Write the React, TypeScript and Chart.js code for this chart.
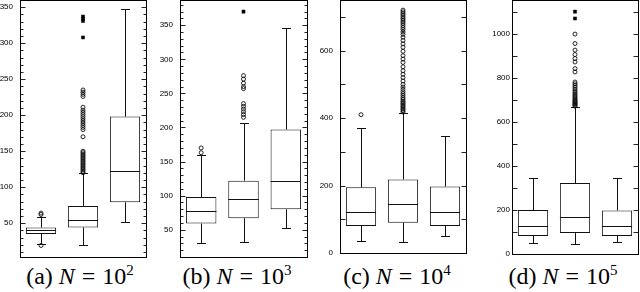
import React, { useEffect, useRef } from 'react';
import { Chart, registerables } from 'chart.js';

Chart.register(...registerables);

const groups = ['G1', 'G2', 'G3'];

// ---------- (a) N = 10^2 ----------
const aLow = [21, 20, 51];
const aQ1 = [35, 44, 79];
const aMedian = [40, 54, 122];
const aQ3 = [44, 74, 198];
const aHigh = [58, 120, 348];
const aOutliers = [
  [19, 62, 64],
  [120, 122, 124, 126, 128, 130, 132, 134, 136, 138, 140, 142, 144, 146, 148, 150, 170, 180, 183, 186, 189, 192, 195, 198, 201, 204, 207, 211, 226, 229, 232, 235],
  [],
];
const aExtremes = [[], [308, 331, 334, 337], []];

// ---------- (b) N = 10^3 ----------
const bLow = [30, 32, 52];
const bQ1 = [59, 67, 80];
const bMedian = [78, 95, 122];
const bQ3 = [98, 122, 197];
const bHigh = [160, 207, 346];
const bOutliers = [
  [163, 170],
  [215, 219, 223, 227, 231, 235, 257, 260, 265, 271, 276],
  [],
];
const bExtremes = [[], [370], []];

// ---------- (c) N = 10^4 ----------
const cLow = [36, 33, 50];
const cQ1 = [80, 90, 80];
const cMedian = [122, 146, 122];
const cQ3 = [195, 218, 197];
const cHigh = [370, 415, 348];
const cOutliers = [
  [410],
  [418, 422, 426, 430, 434, 438, 442, 446, 450, 455, 460, 466, 472, 478, 485, 492, 500, 510, 520, 530, 540, 552, 565, 575, 585, 598, 610, 620, 630, 640, 648, 655, 662, 668, 674, 680, 685, 690, 695, 700, 705, 710, 715, 720],
  [],
];
const cExtremes = [[], [], []];

// ---------- (d) N = 10^5 ----------
const dLow = [50, 45, 55];
const dQ1 = [82, 95, 82];
const dMedian = [126, 167, 127];
const dQ3 = [200, 323, 198];
const dHigh = [347, 670, 347];
const dOutliers = [
  [],
  [672, 676, 680, 684, 688, 692, 696, 700, 705, 710, 716, 722, 728, 735, 742, 750, 758, 766, 774, 782, 828, 843, 873, 889, 907, 927, 957, 1000],
  [],
];
const dExtremes = [[], [1071, 1102], []];

// tick settings (values)
const aTicks = { min: 3, max: 360, step: 10, labelEvery: 50 };
const bTicks = { min: 10, max: 387, step: 10, labelEvery: 50 };
const cTicks = { min: 0, max: 750, step: 100, labelEvery: 200 };
const dTicks = { min: 0, max: 1155, step: 100, labelEvery: 200 };

const captions = [
  { letter: '(a)', exp: '2' },
  { letter: '(b)', exp: '3' },
  { letter: '(c)', exp: '4' },
  { letter: '(d)', exp: '5' },
];

type Stats = {
  low: number[]; q1: number[]; median: number[]; q3: number[]; high: number[];
  outliers: number[][]; extremes: number[][];
  ticks: { min: number; max: number; step: number; labelEvery: number };
};

type Layout = { x: number; axisWidth: number; padRight: number; height: number; padBottom: number; labelPad: number; majorLen: number; minorLen: number; captionCenter: number };

const panels: { stats: Stats; layout: Layout }[] = [
  {
    stats: { low: aLow, q1: aQ1, median: aMedian, q3: aQ3, high: aHigh, outliers: aOutliers, extremes: aExtremes, ticks: aTicks },
    layout: { x: 0, axisWidth: 20, padRight: 14, height: 262, padBottom: 5, labelPad: 7, majorLen: 5, minorLen: 3, captionCenter: 80 },
  },
  {
    stats: { low: bLow, q1: bQ1, median: bMedian, q3: bQ3, high: bHigh, outliers: bOutliers, extremes: bExtremes, ticks: bTicks },
    layout: { x: 160, axisWidth: 20, padRight: 13, height: 262, padBottom: 5, labelPad: 7, majorLen: 5, minorLen: 3, captionCenter: 237 },
  },
  {
    stats: { low: cLow, q1: cQ1, median: cMedian, q3: cQ3, high: cHigh, outliers: cOutliers, extremes: cExtremes, ticks: cTicks },
    layout: { x: 320, axisWidth: 20, padRight: 14, height: 262, padBottom: 9, labelPad: 7, majorLen: 5, minorLen: 5, captionCenter: 397 },
  },
  {
    stats: { low: dLow, q1: dQ1, median: dMedian, q3: dQ3, high: dHigh, outliers: dOutliers, extremes: dExtremes, ticks: dTicks },
    layout: { x: 480, axisWidth: 32, padRight: 2, height: 262, padBottom: 8, labelPad: 2, majorLen: 5, minorLen: 5, captionCenter: 563 },
  },
];

function makeBoxPlugin(stats: Stats, layout: Layout) {
  return {
    id: 'boxExtras',
    beforeDatasetsDraw(chart: any) {
      const { ctx } = chart;
      const x = chart.scales.x;
      const y = chart.scales.y;
      ctx.save();
      ctx.strokeStyle = '#111';
      ctx.lineWidth = 1;
      stats.low.forEach((lo: number, i: number) => {
        const cx = Math.round(x.getPixelForValue(i)) + 0.5;
        const yLo = Math.round(y.getPixelForValue(lo)) + 0.5;
        const yHi = Math.round(y.getPixelForValue(stats.high[i])) + 0.5;
        const yQ1 = y.getPixelForValue(stats.q1[i]);
        const yQ3 = y.getPixelForValue(stats.q3[i]);
        ctx.beginPath();
        ctx.moveTo(cx, yQ1); ctx.lineTo(cx, yLo);
        ctx.moveTo(cx - 4.5, yLo); ctx.lineTo(cx + 4.5, yLo);
        ctx.moveTo(cx, yQ3); ctx.lineTo(cx, yHi);
        ctx.moveTo(cx - 4.5, yHi); ctx.lineTo(cx + 4.5, yHi);
        ctx.stroke();
      });
      ctx.restore();
    },
    afterDatasetsDraw(chart: any) {
      const { ctx, chartArea } = chart;
      const y = chart.scales.y;
      const meta = chart.getDatasetMeta(0);
      ctx.save();
      ctx.strokeStyle = '#111';
      ctx.lineWidth = 1;
      meta.data.forEach((bar: any, i: number) => {
        const ym = Math.round(y.getPixelForValue(stats.median[i])) + 0.5;
        ctx.beginPath();
        ctx.moveTo(bar.x - bar.width / 2, ym);
        ctx.lineTo(bar.x + bar.width / 2, ym);
        ctx.stroke();
      });
      const l = Math.round(chartArea.left) + 0.5;
      const r = Math.round(chartArea.right) + 0.5;
      const t = Math.round(chartArea.top) + 0.5;
      const b = Math.round(chartArea.bottom) + 0.5;
      ctx.strokeStyle = '#000';
      ctx.strokeRect(l, t, r - l, b - t);
      ctx.strokeStyle = '#222';
      y.ticks.forEach((tk: any) => {
        const py = Math.round(y.getPixelForValue(tk.value)) + 0.5;
        if (py <= t + 1 || py >= b - 0.5) return;
        const major = tk.value % stats.ticks.labelEvery === 0 || tk.value % 50 === 0;
        const len = major ? layout.majorLen : layout.minorLen;
        ctx.beginPath();
        ctx.moveTo(l, py); ctx.lineTo(l + len, py);
        ctx.moveTo(r, py); ctx.lineTo(r - len, py);
        ctx.stroke();
      });
      ctx.restore();
    },
  };
}

function BoxPanel({ stats, layout }: { stats: Stats; layout: Layout }) {
  const ref = useRef<HTMLCanvasElement>(null);
  useEffect(() => {
    if (!ref.current) return;
    const outlierData: any[] = [];
    stats.outliers.forEach((vals, i) => vals.forEach((v) => outlierData.push({ x: groups[i], y: v })));
    const extremeData: any[] = [];
    stats.extremes.forEach((vals, i) => vals.forEach((v) => extremeData.push({ x: groups[i], y: v })));
    const chart = new Chart(ref.current, {
      type: 'bar',
      data: {
        labels: groups,
        datasets: [
          {
            type: 'bar',
            label: 'box',
            data: stats.q1.map((q, i) => [q, stats.q3[i]]) as any,
            backgroundColor: '#ffffff',
            borderColor: '#111',
            borderWidth: 1,
            borderSkipped: false,
            categoryPercentage: 1,
            barPercentage: 0.72,
            order: 3,
          } as any,
          {
            type: 'scatter',
            label: 'outliers',
            data: outlierData,
            pointStyle: 'circle',
            pointRadius: 2,
            pointBorderWidth: 0.9,
            borderColor: '#111',
            backgroundColor: 'rgba(255,255,255,0)',
            order: 1,
          } as any,
          {
            type: 'scatter',
            label: 'extremes',
            data: extremeData,
            pointStyle: 'rect',
            pointRadius: 2.2,
            pointBorderWidth: 0.5,
            borderColor: '#000',
            backgroundColor: '#000',
            order: 0,
          } as any,
        ],
      },
      options: {
        animation: false,
        responsive: false,
        devicePixelRatio: 1,
        events: [],
        layout: { autoPadding: false, padding: { top: 0, left: 0, right: layout.padRight, bottom: layout.padBottom } },
        plugins: { legend: { display: false }, tooltip: { enabled: false }, title: { display: false } },
        scales: {
          x: { type: 'category', display: false, offset: true, grid: { display: false } },
          y: {
            type: 'linear',
            min: stats.ticks.min,
            max: stats.ticks.max,
            grid: { display: false, drawTicks: false },
            border: { display: false },
            afterFit: (s: any) => {
              s.width = layout.axisWidth;
              s.paddingTop = 0;
              s.paddingBottom = 0;
            },
            ticks: {
              stepSize: stats.ticks.step,
              includeBounds: false,
              autoSkip: false,
              padding: layout.labelPad,
              color: '#000',
              font: { family: 'Liberation Sans', size: 8 },
              callback: (v: any) => (Number(v) % stats.ticks.labelEvery === 0 ? String(v) : ''),
            },
          },
        },
      } as any,
      plugins: [makeBoxPlugin(stats, layout)],
    });
    return () => chart.destroy();
  }, [stats, layout]);
  return (
    <div style={{ position: 'absolute', left: layout.x, top: 0, width: 160, height: layout.height }}>
      <canvas ref={ref} width={160} height={layout.height} style={{ display: 'block', width: 160, height: layout.height }} />
    </div>
  );
}

export default function App() {
  return (
    <div style={{ position: 'absolute', left: 0, top: 0, width: 640, height: 292, background: '#fff', overflow: 'hidden' }}>
      {panels.map((p, i) => (
        <BoxPanel key={i} stats={p.stats} layout={p.layout} />
      ))}
      {panels.map((p, i) => (
        <div
          key={'c' + i}
          style={{
            position: 'absolute',
            left: p.layout.captionCenter - 80,
            width: 160,
            top: 262,
            textAlign: 'center',
            fontFamily: "'Liberation Serif'",
            fontSize: 24,
            color: '#000',
            whiteSpace: 'nowrap',
          }}
        >
          {captions[i].letter} <i>N</i>
          <span style={{ margin: '0 7px' }}>=</span>
          10<sup style={{ fontSize: 15 }}>{captions[i].exp}</sup>
        </div>
      ))}
    </div>
  );
}
